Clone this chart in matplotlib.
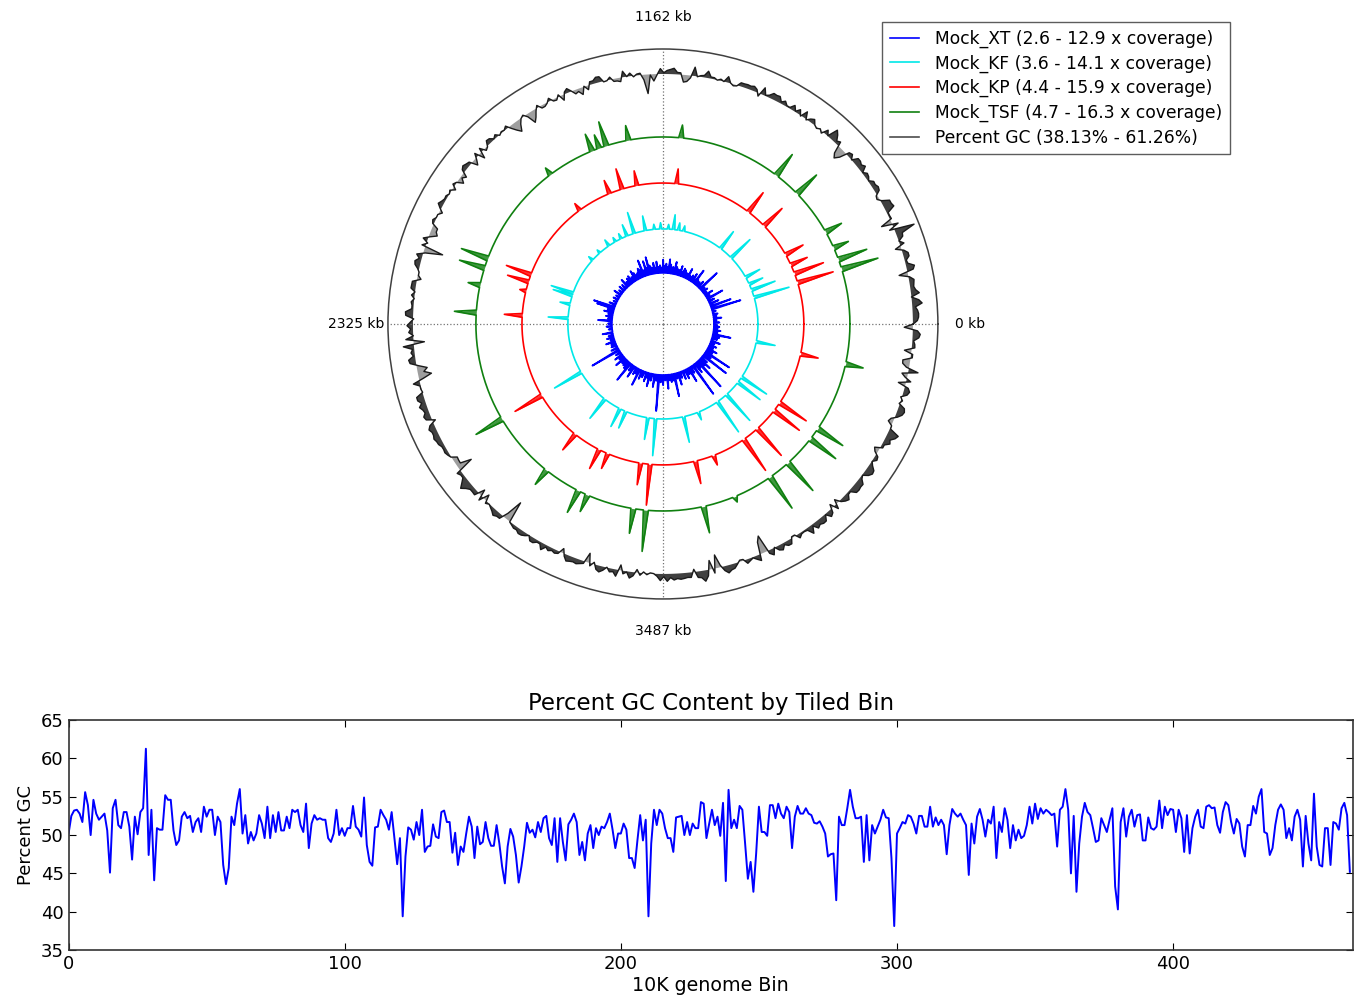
import numpy as np
import matplotlib
matplotlib.use('Agg')
import matplotlib.pyplot as plt
from matplotlib.lines import Line2D

# percent GC per 10 kb bin
gc_percent = [
    50.2, 52.5, 53.2, 53.3, 52.8, 51.7, 55.6, 53.9, 50.0, 54.6,
    52.8, 52.0, 52.4, 52.8, 50.6, 45.1, 53.5, 54.6, 51.3, 50.9,
    53.0, 53.0, 51.1, 46.8, 52.4, 50.1, 53.0, 53.5, 61.26, 47.4,
    53.3, 44.1, 50.9, 50.7, 50.7, 55.2, 54.6, 54.6, 50.6, 48.7,
    49.3, 52.4, 53.0, 52.2, 52.5, 50.4, 51.7, 52.2, 50.4, 53.7,
    52.4, 53.3, 53.3, 50.0, 52.4, 51.7, 46.1, 43.6, 45.7, 52.4,
    51.3, 54.1, 56.0, 50.2, 52.6, 48.9, 50.4, 49.3, 50.2, 52.6,
    51.5, 49.6, 53.7, 49.6, 52.6, 50.4, 53.0, 50.6, 50.6, 52.4,
    50.9, 53.3, 53.0, 53.3, 51.3, 50.4, 54.1, 48.3, 51.5, 52.6,
    52.0, 52.2, 52.0, 52.0, 49.6, 49.1, 50.2, 53.3, 50.0, 50.9,
    49.9, 50.9, 50.9, 53.8, 51.1, 50.7, 49.8, 54.9, 48.7, 46.5,
    46.0, 51.0, 51.1, 53.3, 52.6, 52.0, 50.7, 53.0, 49.6, 46.2,
    49.6, 39.4, 47.2, 51.0, 50.7, 49.4, 51.7, 50.0, 53.3, 47.8,
    48.5, 48.6, 51.4, 49.8, 49.6, 53.0, 53.2, 51.7, 51.7, 47.7,
    50.3, 46.1, 48.5, 47.8, 50.2, 52.4, 51.1, 47.0, 51.1, 48.8,
    49.1, 51.7, 49.6, 48.6, 48.6, 51.3, 48.9, 45.9, 43.7, 48.5,
    50.8, 49.8, 47.4, 43.8, 45.9, 48.5, 51.6, 50.3, 50.7, 49.7,
    51.7, 50.4, 52.2, 52.5, 49.6, 48.7, 52.2, 46.5, 52.2, 49.1,
    46.7, 51.4, 52.0, 52.8, 51.7, 47.4, 49.1, 46.7, 50.2, 51.3,
    48.3, 50.9, 50.0, 51.1, 50.9, 51.7, 52.8, 50.7, 48.3, 50.2,
    50.2, 51.5, 50.7, 47.0, 47.0, 45.7, 49.3, 52.6, 49.3, 52.0,
    39.4, 48.9, 53.3, 51.3, 53.3, 52.8, 50.9, 49.6, 49.6, 47.8,
    52.3, 52.4, 52.5, 50.0, 51.7, 50.0, 51.5, 50.9, 50.9, 54.3,
    54.1, 49.6, 51.5, 53.3, 51.3, 52.4, 49.9, 54.2, 44.0, 55.9,
    50.9, 52.0, 50.9, 53.8, 53.3, 48.9, 44.3, 46.5, 42.6, 47.6,
    53.7, 50.4, 50.4, 49.9, 53.9, 53.9, 52.2, 54.1, 52.8, 52.2,
    53.7, 53.0, 48.3, 52.4, 53.8, 52.8, 52.8, 53.5, 52.8, 52.6,
    51.6, 51.5, 51.8, 51.1, 50.2, 47.2, 47.5, 47.6, 41.5, 52.4,
    51.3, 51.3, 53.5, 55.9, 53.7, 52.2, 52.2, 52.4, 46.5, 52.6,
    46.7, 51.3, 50.2, 51.1, 52.0, 53.3, 52.3, 52.2, 47.0, 38.13,
    50.2, 50.9, 51.7, 51.5, 52.6, 52.4, 51.5, 50.2, 52.5, 52.5,
    51.1, 51.1, 53.7, 51.1, 52.3, 51.3, 52.0, 51.3, 47.5, 51.3,
    53.4, 52.8, 52.4, 52.8, 52.0, 51.3, 44.8, 51.5, 48.9, 52.4,
    53.4, 52.0, 49.8, 52.0, 51.5, 53.7, 47.0, 51.7, 50.4, 53.5,
    52.0, 48.3, 51.3, 49.3, 50.7, 49.6, 49.9, 51.3, 53.7, 51.5,
    54.1, 52.1, 53.5, 52.8, 53.3, 53.0, 52.6, 52.8, 48.5, 53.3,
    53.7, 56.0, 53.3, 45.0, 52.5, 42.6, 48.9, 52.4, 54.2, 53.0,
    52.6, 50.9, 49.1, 49.3, 52.2, 51.3, 50.4, 52.0, 53.5, 43.3,
    40.3, 51.7, 53.5, 49.8, 52.4, 53.3, 51.1, 52.6, 52.7, 49.3,
    49.3, 52.3, 50.9, 50.7, 51.1, 54.5, 50.9, 53.7, 52.6, 53.4,
    53.3, 50.4, 53.3, 52.2, 47.8, 52.6, 47.6, 50.9, 52.4, 53.3,
    51.1, 50.9, 53.7, 53.9, 53.5, 53.6, 51.3, 50.3, 53.0, 54.3,
    53.9, 51.7, 50.2, 52.1, 51.5, 48.5, 47.2, 51.3, 51.3, 53.8,
    52.8, 55.0, 56.0, 50.4, 50.2, 47.4, 48.3, 51.3, 53.3, 54.0,
    53.3, 49.6, 50.9, 49.3, 52.4, 53.3, 52.0, 45.9, 52.5, 48.9,
    46.7, 55.4, 48.5, 46.1, 45.9, 50.9, 50.9, 46.1, 51.7, 51.5,
    50.7, 53.5, 54.2, 52.6, 45.2,
]

# coverage tracks: typical coverage plus the bins that stand out (bin: x coverage)
xt_base = 3.6
xt_peaks = {2: 5.0, 5: 4.3, 8: 5.6, 11: 4.4, 14: 4.8, 18: 4.5, 22: 11.3, 26: 9.0,
            30: 6.0, 34: 5.2, 38: 8.0, 41: 4.6, 44: 5.8, 47: 4.4, 50: 5.1, 53: 4.7,
            56: 9.5, 60: 5.5, 63: 4.8, 66: 5.0, 68: 7.7, 70: 4.6, 72: 6.0, 75: 5.2,
            78: 4.7, 80: 6.5, 82: 4.9, 84: 5.0, 86: 5.5, 88: 5.8, 90: 4.8, 92: 6.2,
            94: 5.0, 96: 5.1, 98: 5.6, 100: 6.8, 103: 5.4, 106: 5.9, 108: 7.2,
            110: 5.2, 112: 6.0, 114: 5.4, 116: 7.0, 118: 5.0, 120: 5.6, 122: 5.2,
            124: 6.6, 126: 5.1, 128: 6.4, 131: 5.3, 133: 5.9, 135: 8.2, 137: 5.5,
            139: 7.4, 141: 5.2, 144: 8.0, 146: 5.6, 148: 6.1, 150: 5.3, 152: 5.0,
            155: 5.6, 157: 6.4, 160: 5.0, 163: 5.7, 166: 5.4, 169: 4.8, 172: 6.0,
            176: 5.0, 180: 5.2, 184: 4.7, 188: 5.6, 192: 4.6, 196: 4.9, 200: 4.5,
            204: 5.3, 208: 9.2, 210: 8.2, 213: 5.2, 216: 6.0, 219: 4.8, 222: 5.3,
            225: 4.7, 228: 7.2, 232: 4.6, 236: 5.0, 240: 4.5, 245: 6.2, 249: 4.8,
            252: 5.4, 255: 4.6, 258: 6.0, 261: 4.8, 264: 5.0, 268: 5.4, 272: 11.5,
            276: 5.0, 280: 5.8, 283: 4.9, 286: 6.5, 289: 5.0, 292: 5.2, 295: 5.6,
            298: 9.0, 302: 5.3, 305: 6.8, 309: 5.5, 312: 5.0, 314: 8.0, 318: 5.9,
            321: 5.2, 325: 6.0, 328: 5.0, 330: 7.0, 333: 5.4, 337: 6.9, 340: 5.2,
            343: 12.9, 346: 5.5, 349: 6.2, 352: 5.0, 355: 7.2, 358: 5.1, 360: 5.6,
            363: 5.3, 365: 9.5, 368: 5.0, 371: 6.8, 374: 5.2, 378: 5.8, 382: 6.0,
            385: 5.1, 388: 7.5, 391: 5.4, 395: 12.6, 399: 6.4, 401: 5.3, 404: 12.3,
            407: 5.6, 409: 7.0, 412: 5.5, 416: 11.0, 419: 5.6, 422: 10.8, 425: 5.3,
            428: 6.2, 431: 4.9, 434: 5.5, 437: 4.7, 440: 6.0, 444: 5.0, 447: 5.4,
            450: 8.2, 453: 4.7, 456: 5.4, 459: 4.6, 461: 5.0, 463: 4.5}

kf_base = 4.6
kf_peaks = {21: 13.9, 27: 11.0, 32: 8.4, 38: 8.7, 57: 11.3, 68: 10.0, 100: 6.0,
            104: 6.5, 108: 8.4, 112: 5.8, 118: 6.2, 123: 5.9, 130: 8.4, 139: 10.2,
            145: 7.7, 150: 6.0, 155: 5.8, 161: 6.4, 170: 5.6, 178: 5.9, 208: 10.5,
            210: 9.7, 217: 7.2, 228: 9.7, 272: 12.5, 300: 10.8, 314: 9.7, 319: 9.2,
            337: 10.2, 343: 14.1, 365: 11.3, 377: 6.7, 394: 14.0, 403: 13.5,
            416: 11.8, 421: 12.3, 451: 9.5}

kp_base = 5.4
kp_peaks = {22: 14.9, 27: 13.3, 32: 10.0, 38: 10.5, 57: 11.8, 68: 11.6, 109: 9.2,
            130: 9.2, 138: 10.8, 145: 9.0, 163: 7.5, 206: 12.1, 210: 11.0, 215: 7.0,
            228: 10.0, 272: 13.3, 299: 10.5, 314: 10.8, 319: 9.5, 337: 11.0,
            342: 15.9, 366: 11.3, 376: 8.0, 394: 15.1, 403: 14.6, 416: 13.6,
            421: 13.6, 449: 10.0}

tsf_base = 5.7
tsf_peaks = {22: 15.4, 26: 13.4, 31: 9.8, 38: 10.3, 57: 12.6, 68: 12.4, 109: 9.0,
             130: 9.5, 139: 12.1, 142: 9.3, 145: 10.3, 164: 7.8, 206: 12.9, 210: 12.4,
             217: 8.8, 228: 11.3, 272: 13.4, 299: 10.3, 314: 11.9, 318: 10.3,
             337: 12.1, 342: 16.3, 365: 12.6, 378: 7.2, 394: 15.4, 403: 15.2,
             416: 13.9, 421: 13.4, 449: 10.3}

legend_labels = ['Mock_XT (2.6 - 12.9 x coverage)', 'Mock_KF (3.6 - 14.1 x coverage)',
                 'Mock_KP (4.4 - 15.9 x coverage)', 'Mock_TSF (4.7 - 16.3 x coverage)',
                 'Percent GC (38.13% - 61.26%)']
theta_labels = ['0 kb', '1162 kb', '2325 kb', '3487 kb']

n_bins = len(gc_percent)
gc = np.array(gc_percent)


def track(base, peaks):
    cov = np.full(n_bins, base)
    for b, v in peaks.items():
        cov[b] = v
    return cov


fig = plt.figure(figsize=(13.66, 9.99), dpi=100)

# ---- circular view ----
ax = fig.add_axes([0.284, 0.4004, 0.4026, 0.5506], projection='polar')
theta = np.linspace(0, 2 * np.pi, n_bins, endpoint=False)
theta_c = np.append(theta, 2 * np.pi)

scale = 3.9  # radius per x coverage
# base, peaks, radial offset, colour, line width, fill alpha
rings = [(xt_base, xt_peaks, 37.0, '#0000ff', 1.3, 0.0),
         (kf_base, kf_peaks, 77.1, '#00e8e8', 1.2, 0.8),
         (kp_base, kp_peaks, 119.9, '#ff0000', 1.2, 0.8),
         (tsf_base, tsf_peaks, 164.8, '#108010', 1.2, 0.8)]
for base, peaks, offset, col, lw, alpha in rings:
    cov = track(base, peaks)
    r = offset + scale * np.append(cov, cov[0])
    r0 = offset + scale * base
    if alpha > 0:
        ax.fill_between(theta_c, r0, r, color=col, alpha=alpha, lw=0)
    ax.plot(theta_c, r, color=col, lw=lw)

gc_base = 250
gc_r = gc_base + 1.8 * (np.append(gc, gc[0]) - 50)
ax.fill_between(theta_c, gc_base, gc_r, where=gc_r >= gc_base, interpolate=True,
                color='0.25', lw=0)
ax.fill_between(theta_c, gc_base, gc_r, where=gc_r < gc_base, interpolate=True,
                color='0.62', lw=0)
ax.plot(theta_c, gc_r, color='0.1', lw=1.0)

ax.set_ylim(0, 275)
ax.set_yticks([])
angles = np.deg2rad([0, 90, 180, 270])
ax.set_xticks(angles)
ax.set_xticklabels([])
ax.tick_params(length=0)
ax.xaxis.grid(True, linestyle=':', color='0.45', lw=0.9)
ax.spines['polar'].set_color('0.25')
ax.spines['polar'].set_linewidth(1.1)
for a, lab in zip(angles, theta_labels):
    ax.text(a, 307, lab, ha='center', va='center', fontsize=10)

handles = [Line2D([], [], color=c, lw=1.2) for c in ['#0000ff', '#00e8e8', '#ff0000', '#108010', '0.3']]
leg = fig.legend(handles, legend_labels, loc='upper right', bbox_to_anchor=(0.9004, 0.978),
                 fontsize=12.3, frameon=True, fancybox=False, borderpad=0.45,
                 labelspacing=0.38, handlelength=1.7, handletextpad=0.95, borderaxespad=0)
leg.get_frame().set_edgecolor('0.2')
leg.get_frame().set_linewidth(1.0)

# ---- linear GC panel ----
ax2 = fig.add_axes([0.0502, 0.049, 0.940, 0.2302])
ax2.plot(np.arange(n_bins), gc, color='#0000ff', lw=1.4)
ax2.set_xlim(0, n_bins)
ax2.set_ylim(35, 65)
ax2.set_xticks([0, 100, 200, 300, 400])
ax2.set_yticks([35, 40, 45, 50, 55, 60, 65])
ax2.tick_params(direction='in', top=True, right=True, labelsize=13, length=5)
ax2.set_title('Percent GC Content by Tiled Bin', fontsize=16.5, pad=7)
ax2.set_xlabel('10K genome Bin', fontsize=13.7, labelpad=2)
ax2.set_ylabel('Percent GC', fontsize=13)
for s in ax2.spines.values():
    s.set_linewidth(1.2)
    s.set_color('0.2')

fig.savefig('out.png', dpi=100, facecolor='white')
